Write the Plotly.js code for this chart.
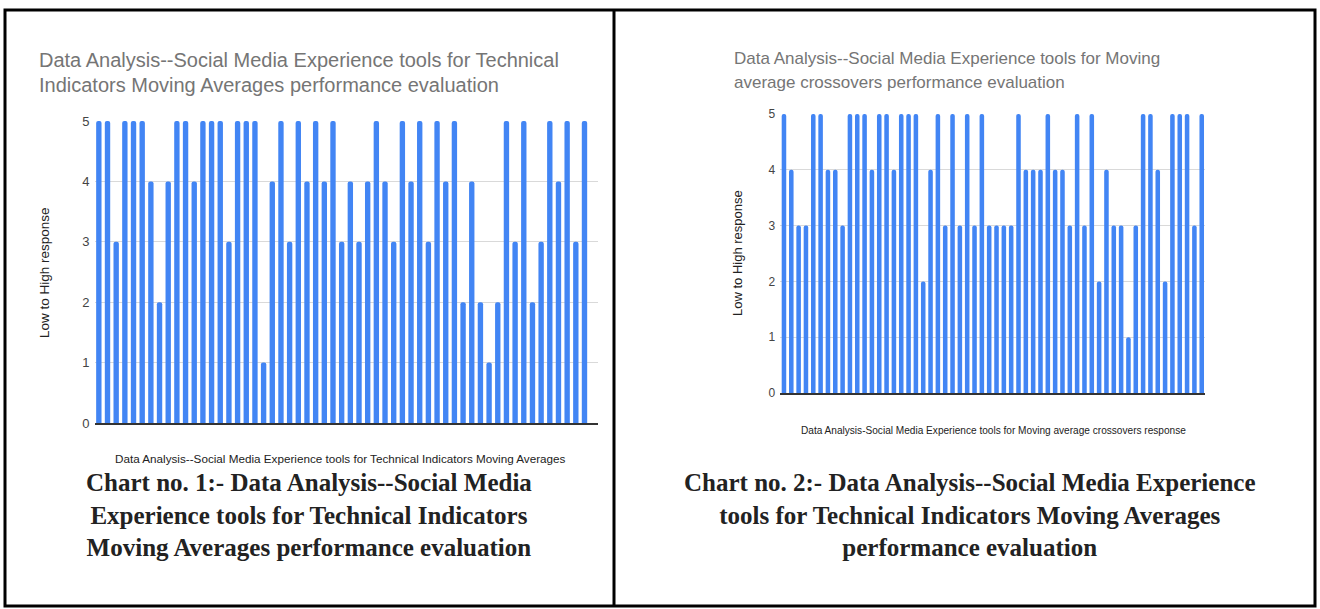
<!DOCTYPE html>
<html>
<head>
<meta charset="utf-8">
<script src="https://cdn.plot.ly/plotly-3.0.1.min.js"></script>
<style>
  html, body { margin: 0; padding: 0; background: #ffffff; }
  #chart { width: 1320px; height: 609px; }
</style>
</head>
<body>
<div id="chart"></div>
<script>
// ---- Data ----
const responses1 = [5,5,3,5,5,5,4,2,4,5,5,4,5,5,5,3,5,5,5,1,4,5,3,5,4,5,4,5,3,
                    4,3,4,5,4,3,5,4,5,3,5,4,5,2,4,2,1,2,5,3,5,2,3,5,4,5,3,5];
const responses2 = [5,4,3,3,5,5,4,4,3,5,5,5,4,5,5,4,5,5,5,2,4,5,3,5,3,5,3,5,
                    3,3,3,3,5,4,4,4,5,4,4,3,5,3,5,2,4,3,3,1,3,5,5,4,2,5,5,5,3,5];
const yTicks = [0,1,2,3,4,5];
const title1 = ["Data Analysis--Social Media Experience tools for Technical",
                "Indicators Moving Averages performance evaluation"];
const title2 = ["Data Analysis--Social Media Experience tools for Moving",
                "average crossovers performance evaluation"];
const xTitle1 = "Data Analysis--Social Media Experience tools for Technical Indicators Moving Averages";
const xTitle2 = "Data Analysis-Social Media Experience tools for Moving average crossovers response";
const yTitle = "Low to High response";
const caption1 = ["Chart no. 1:- Data Analysis--Social Media",
                  "Experience tools for Technical Indicators",
                  "Moving Averages performance evaluation"];
const caption2 = ["Chart no. 2:- Data Analysis--Social Media Experience",
                  "tools for Technical Indicators Moving Averages",
                  "performance evaluation"];

// ---- Layout helpers ----
const W = 1320, H = 609;
const px = x => x / W;
const py = y => 1 - y / H;
const idx = arr => arr.map((_, i) => i + 1);

const BLUE = '#4285F4';
const SANS = '"Liberation Sans", Arial, sans-serif';
const SERIF = '"Liberation Serif", "Times New Roman", serif';

const traces = [
  { type: 'bar', x: idx(responses1), y: responses1, xaxis: 'x', yaxis: 'y',
    marker: { color: BLUE, cornerradius: 2 }, hoverinfo: 'y', showlegend: false },
  { type: 'bar', x: idx(responses2), y: responses2, xaxis: 'x2', yaxis: 'y2',
    marker: { color: BLUE, cornerradius: 2 }, hoverinfo: 'y', showlegend: false }
];

const ann = [];
function addText(text, x, y, size, color, opts) {
  ann.push(Object.assign({ text, xref: 'paper', yref: 'paper', x: px(x), y: py(y),
    showarrow: false, xanchor: 'left', yanchor: 'middle',
    font: { family: SANS, size, color } }, opts || {}));
}
// chart titles
addText(title1[0], 37, 60, 20, '#757575');
addText(title1[1], 37, 85, 20, '#757575');
addText(title2[0], 732, 58, 17, '#757575');
addText(title2[1], 732, 82, 17, '#757575');
// x-axis titles
addText(xTitle1, 340, 458, 11.7, '#222222', { xanchor: 'center' });
addText(xTitle2, 993, 430, 10.1, '#222222', { xanchor: 'center' });
// y-axis titles
addText(yTitle, 44, 273, 13.5, '#222222', { xanchor: 'center', textangle: -90 });
addText(yTitle, 737, 253, 13, '#222222', { xanchor: 'center', textangle: -90 });
// captions (one multi-line text each)
const capText = lines => lines.map(t => '<b>' + t + '</b>').join('<br>');
ann.push({ text: capText(caption1), xref: 'paper', yref: 'paper',
  x: px(309), y: py(515), showarrow: false, xanchor: 'center', yanchor: 'middle', align: 'center',
  font: { family: SERIF, size: 25, color: '#222222' } });
ann.push({ text: capText(caption2), xref: 'paper', yref: 'paper',
  x: px(969), y: py(515), showarrow: false, xanchor: 'center', yanchor: 'middle', align: 'center',
  font: { family: SERIF, size: 25, color: '#222222' } });

const shapes = [
  { type: 'rect', xref: 'paper', yref: 'paper', x0: px(5), x1: px(1315), y0: py(606), y1: py(10),
    line: { color: '#000000', width: 3 }, fillcolor: 'rgba(0,0,0,0)' },
  { type: 'line', xref: 'paper', yref: 'paper', x0: px(614), x1: px(614), y0: py(606), y1: py(10),
    line: { color: '#000000', width: 3 } }
];

function xAxis(domain) {
  return { domain, range: [0.5, 58.5], showticklabels: false, showgrid: false,
    zeroline: false, showline: true, linecolor: '#333333', linewidth: 1.5,
    ticks: '', fixedrange: true };
}
function yAxis(domain, xa, size) {
  return { domain, anchor: xa, range: [0, 5], tickvals: yTicks, ticktext: yTicks.map(String),
    showgrid: true, gridcolor: '#d9d9d9', gridwidth: 1, zeroline: false,
    showline: false, ticks: '', ticklabelstandoff: 4,
    tickfont: { family: SANS, size, color: '#444444' }, fixedrange: true };
}

const layout = {
  width: W, height: H,
  margin: { l: 0, r: 0, t: 0, b: 0 },
  paper_bgcolor: '#ffffff', plot_bgcolor: '#ffffff',
  bargap: 0.38,
  showlegend: false,
  xaxis: xAxis([px(94.5), px(597.5)]),
  yaxis: yAxis([py(423), py(121)], 'x', 13),
  xaxis2: Object.assign(xAxis([px(780.3), px(1205.4)]), { anchor: 'y2' }),
  yaxis2: yAxis([py(393), py(114)], 'x2', 12),
  annotations: ann,
  shapes
};
layout.xaxis.anchor = 'y';

Plotly.newPlot('chart', traces, layout, { staticPlot: true, displayModeBar: false });
</script>
</body>
</html>
